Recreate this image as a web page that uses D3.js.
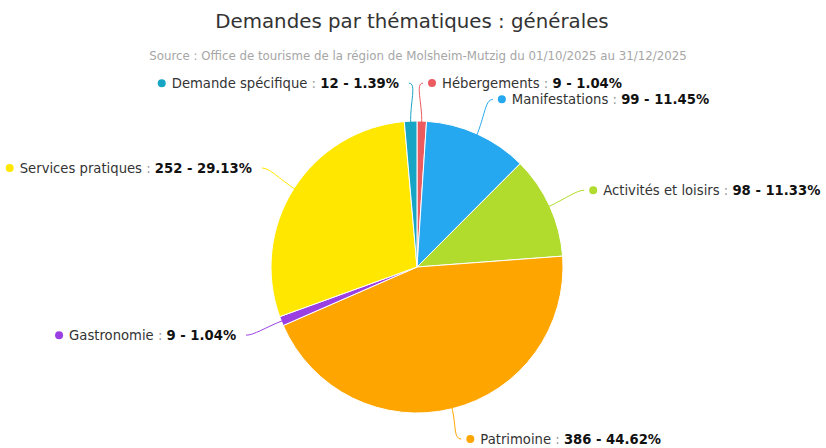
<!DOCTYPE html>
<html lang="fr">
  <head>
    <meta charset="utf-8" />
    <title>Demandes par thématiques</title>
    <style>
      body {
        margin: 0;
        background: #fff;
      }
      svg {
        display: block;
        font-family: "DejaVu Sans", "Open Sans", sans-serif;
      }
    </style>
    <script src="https://d3js.org/d3.v7.min.js"></script>
  </head>
  <body>
    <svg width="826" height="448"></svg>
    <script>
      // data, clockwise from the top of the pie
      var categories = [
        "Hébergements",
        "Manifestations",
        "Activités et loisirs",
        "Patrimoine",
        "Gastronomie",
        "Services pratiques",
        "Demande spécifique",
      ];
      var values = [9, 99, 98, 386, 9, 252, 12];
      var colors = [
        "#ec5b5f",
        "#25a8ef",
        "#b1dc2d",
        "#ffa500",
        "#9a40e3",
        "#ffe700",
        "#17a5c6",
      ];

      var svg = d3.select("svg"),
        width = +svg.attr("width"),
        height = +svg.attr("height");

      var cx = 417,
        cy = 267,
        radius = 146,
        labelRadius = radius + 38;

      var total = d3.sum(values);
      var rows = categories.map((c, i) => ({
        name: c,
        value: values[i],
        color: colors[i],
        pct: ((values[i] / total) * 100).toFixed(2),
      }));

      // titles
      svg
        .append("text")
        .attr("x", width / 2 - 1)
        .attr("y", 28)
        .attr("text-anchor", "middle")
        .attr("fill", "#333")
        .attr("font-size", "19.8px")
        .text("Demandes par thématiques : générales");

      svg
        .append("text")
        .attr("x", width / 2 + 5)
        .attr("y", 60)
        .attr("text-anchor", "middle")
        .attr("fill", "#a6a6a6")
        .attr("font-size", "11.8px")
        .text(
          "Source : Office de tourisme de la région de Molsheim-Mutzig du 01/10/2025 au 31/12/2025"
        );

      var pie = d3
        .pie()
        .sort(null)
        .value((d) => d.value);
      var arc = d3.arc().innerRadius(0).outerRadius(radius);
      var arcs = pie(rows);

      var g = svg.append("g").attr("transform", `translate(${cx},${cy})`);

      g.selectAll("path.slice")
        .data(arcs)
        .enter()
        .append("path")
        .attr("class", "slice")
        .attr("d", arc)
        .attr("fill", (d) => d.data.color)
        .attr("stroke", "#fff")
        .attr("stroke-width", 1);

      // helper: point at given radius along an angle (0 = top, clockwise)
      var polar = (a, r) => [Math.sin(a) * r, -Math.cos(a) * r];

      // keep labels inside the picture
      var maxY = height - 9 - cy;

      arcs.forEach((d) => {
        var a = (d.startAngle + d.endAngle) / 2;
        var side = Math.sin(a) >= 0 ? 1 : -1;
        var p0 = polar(a, radius - 2);
        var p1 = polar(a, radius + 18);
        var e = polar(a, labelRadius);
        e[1] = Math.min(e[1], maxY);
        var p2 = [e[0] - side * 8, e[1]];

        g.append("path")
          .attr(
            "d",
            `M${p0[0]},${p0[1]} C${p1[0]},${p1[1]} ${p2[0]},${p2[1]} ${e[0]},${e[1]}`
          )
          .attr("fill", "none")
          .attr("stroke", d.data.color)
          .attr("stroke-width", 1);

        var lbl = g.append("g");
        var t = lbl
          .append("text")
          .attr("y", e[1])
          .attr("dy", "0.35em")
          .attr("font-size", "13.2px");
        t.append("tspan").attr("fill", "#333").text(d.data.name);
        t.append("tspan").attr("fill", "#999").text(" : ");
        t.append("tspan")
          .attr("fill", "#111")
          .attr("font-weight", "bold")
          .text(`${d.data.value} - ${d.data.pct}%`);

        var w = t.node().getComputedTextLength();
        var dotX, textX;
        if (side > 0) {
          dotX = e[0] + 9;
          textX = dotX + 10;
        } else {
          textX = e[0] - 10 - w;
          dotX = textX - 10;
        }
        t.attr("x", textX);
        lbl
          .append("circle")
          .attr("cx", dotX)
          .attr("cy", e[1])
          .attr("r", 4)
          .attr("fill", d.data.color);
      });
    </script>
  </body>
</html>
